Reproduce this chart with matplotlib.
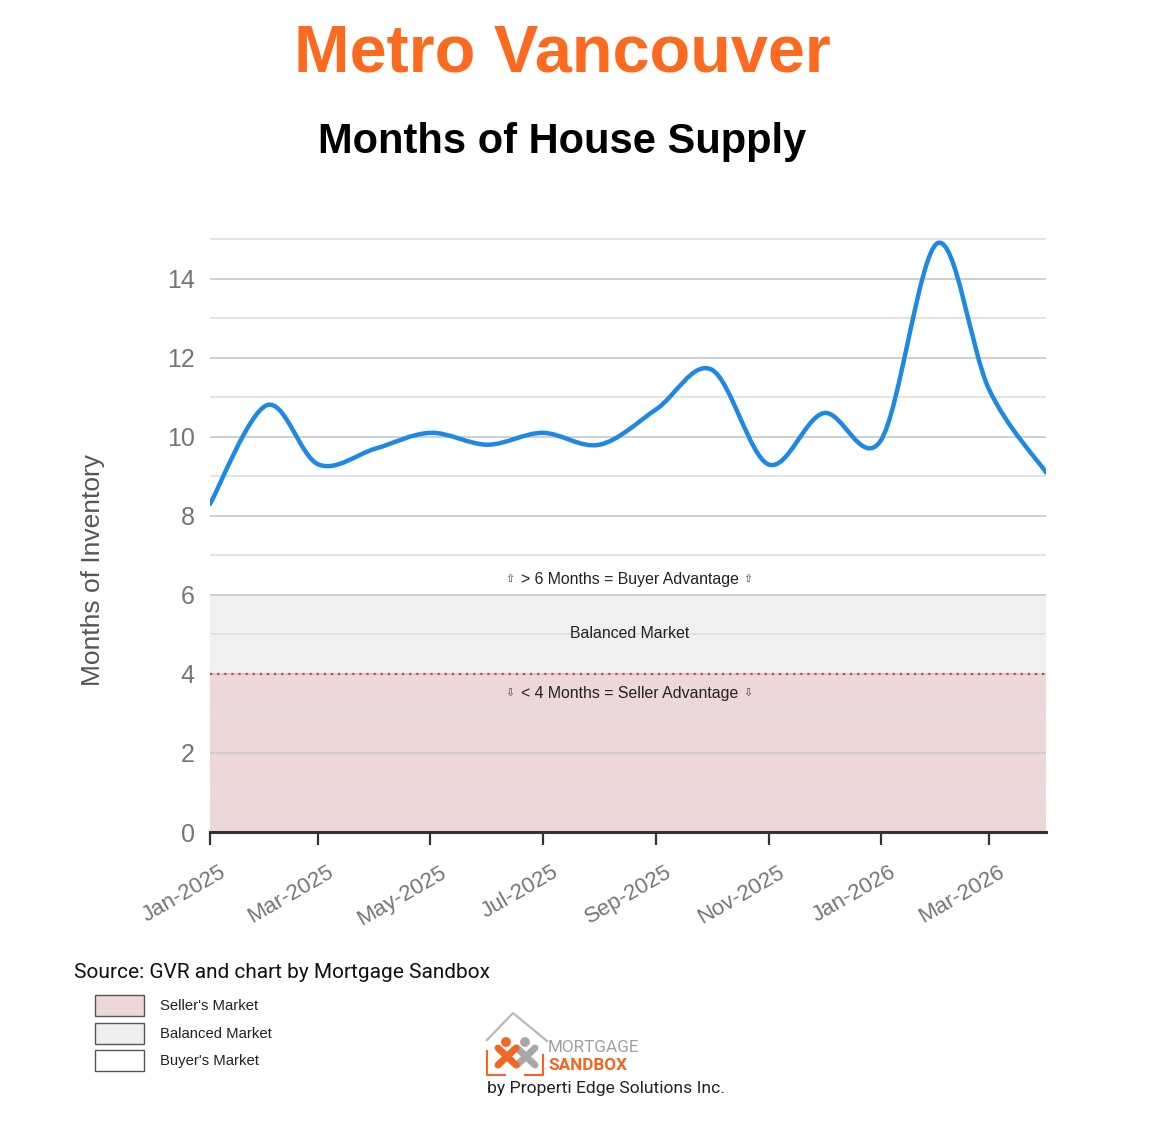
import matplotlib
matplotlib.use("Agg")

import numpy as np
import matplotlib.pyplot as plt
import matplotlib.dates as mdates
import matplotlib.patches as mpatches
from matplotlib.path import Path
from matplotlib.transforms import ScaledTranslation

# ── Data ────────────────────────────────────────────────────────────────────
months = np.array([
    "2025-01-01", "2025-02-01", "2025-03-01", "2025-04-01",
    "2025-05-01", "2025-06-01", "2025-07-01", "2025-08-01",
    "2025-09-01", "2025-10-01", "2025-11-01", "2025-12-01",
    "2026-01-01", "2026-02-01", "2026-03-01", "2026-04-01",
], dtype="datetime64[D]")
supply = [8.3, 10.8, 9.3, 9.7, 10.1, 9.8, 10.1, 9.8,
          10.7, 11.7, 9.3, 10.6, 9.9, 14.9, 11.2, 9.1]

tick_months = np.array([
    "2025-01-01", "2025-03-01", "2025-05-01", "2025-07-01",
    "2025-09-01", "2025-11-01", "2026-01-01", "2026-03-01",
], dtype="datetime64[D]")
tick_labels = ["Jan-2025", "Mar-2025", "May-2025", "Jul-2025",
               "Sep-2025", "Nov-2025", "Jan-2026", "Mar-2026"]

bands = [(0, 4, "#ecd8d9"), (4, 6, "#f0f0f0")]
legend_items = [("Seller's Market", "#ecd8d9"),
                ("Balanced Market", "#eeeeee"),
                ("Buyer's Market", "#ffffff")]

# ── Palette ─────────────────────────────────────────────────────────────────
_ORANGE = "#fb6a1f"
_LOGO_OR = "#f26522"
_LOGO_GR = "#a8a8a8"
_BLUE = "#1e88e5"
_GREY = "#757575"
_FONT = ["Liberation Sans", "DejaVu Sans"]
_ROBOTO = ["Roboto", "DejaVu Sans"]

W, H = 1168, 1134
fig = plt.figure(figsize=(W / 100, H / 100), dpi=100)
fig.patch.set_facecolor("white")


def px(x, y):
    """pixel (from top-left) -> figure fraction"""
    return x / W, 1 - y / H


ax = fig.add_axes([210 / W, 1 - 832 / H, 836 / W, 594 / H])

for lo, hi, c in bands:
    ax.axhspan(lo, hi, color=c, zorder=0, lw=0)
ax.axhline(4, color="#d0413c", lw=1.6, ls=(0, (1, 2.2)), zorder=1.5)

# smooth line: Catmull-Rom segments as cubic Beziers
xs = mdates.date2num(months.astype("datetime64[s]").astype(object))
ys = np.asarray(supply, float)
pts = np.column_stack([xs, ys])
ext = np.vstack([pts[0], pts, pts[-1]])
verts = [pts[0]]
codes = [Path.MOVETO]
for i in range(len(pts) - 1):
    p0, p1, p2, p3 = ext[i], ext[i + 1], ext[i + 2], ext[i + 3]
    verts += [p1 + (p2 - p0) / 6, p2 - (p3 - p1) / 6, p2]
    codes += [Path.CURVE4] * 3
ax.add_patch(mpatches.PathPatch(Path(verts, codes), fill=False,
                                edgecolor=_BLUE, lw=3.2, zorder=3,
                                capstyle="round", joinstyle="round"))

ax.set_xlim(xs[0], xs[-1])
ax.set_ylim(0, 15.03)
ax.set_yticks(range(0, 15, 2))
ax.set_yticks(range(1, 16, 2), minor=True)
ax.grid(True, which="major", axis="y", color="#cbcbcb", lw=1.3)
ax.grid(True, which="minor", axis="y", color="#e0e0e0", lw=1.3)
ax.set_axisbelow(True)

for s in ("top", "right", "left"):
    ax.spines[s].set_visible(False)
ax.spines["bottom"].set_color("#333333")
ax.spines["bottom"].set_linewidth(2.2)
ax.spines["bottom"].set_zorder(4)

ax.tick_params(axis="y", which="both", length=0, pad=11,
               labelsize=18, labelcolor=_GREY)
for t in ax.get_yticklabels():
    t.set_family(_FONT)

tx = mdates.date2num(tick_months.astype("datetime64[s]").astype(object))
ax.set_xticks(tx)
ax.set_xticklabels(tick_labels)
ax.tick_params(axis="x", length=9, width=1.6, color="#333333",
               pad=19, labelsize=16, labelcolor=_GREY)
offset = ScaledTranslation(0.14, 0, fig.dpi_scale_trans)
for t in ax.get_xticklabels():
    t.set_family(_FONT)
    t.set_rotation(30)
    t.set_ha("right")
    t.set_va("center")
    t.set_rotation_mode("anchor")
    t.set_transform(t.get_transform() + offset)

# band annotations (small outline arrows either side)
ytr = ax.get_yaxis_transform()
xc = (630 - 210) / 836
notes = [(6.39, "> 6 Months = Buyer Advantage", "\u21e7"),
         (5.03, "Balanced Market", ""),
         (3.51, "< 4 Months = Seller Advantage", "\u21e9")]
for yv, txt, arrow in notes:
    ax.text(xc, yv, txt, transform=ytr, ha="center", va="center",
            fontsize=11.4, color="#222222", family=_FONT)
    if arrow:
        for xa in ((510 - 210) / 836, (748 - 210) / 836):
            ax.text(xa, yv, arrow, transform=ytr, ha="center",
                    va="center", fontsize=8, color="#444444",
                    family=["DejaVu Sans"])

fig.text(*px(93, 570), "Months of Inventory", rotation=90,
         ha="center", va="center", fontsize=19, color="#555555",
         family=_FONT)

# ── Titles ──────────────────────────────────────────────────────────────────
fig.text(*px(562, 55), "Metro Vancouver", ha="center", va="center",
         fontsize=48, fontweight="bold", color=_ORANGE, family=_FONT)
fig.text(*px(562, 142), "Months of House Supply", ha="center",
         va="center", fontsize=30, fontweight="bold", color="#000000",
         family=_FONT)

# ── Footer: source + legend ─────────────────────────────────────────────────
fig.text(*px(74, 973), "Source: GVR and chart by Mortgage Sandbox",
         ha="left", va="center", fontsize=15, color="#111111",
         family=_ROBOTO)

for i, (label, c) in enumerate(legend_items):
    y = 995 + i * 27.5
    fig.add_artist(mpatches.Rectangle(px(95, y + 21), 49 / W, 21 / H,
                                      transform=fig.transFigure,
                                      facecolor=c, edgecolor="#555555",
                                      lw=1))
    fig.text(*px(160, y + 11), label, ha="left", va="center",
             fontsize=10.7, color="#222222", family=_FONT)

# ── Logo ────────────────────────────────────────────────────────────────────
lg = fig.add_axes([0, 0, 1, 1], zorder=10)
lg.set_xlim(0, W)
lg.set_ylim(H, 0)
lg.axis("off")
lg.patch.set_alpha(0)

lg.plot([487, 513, 547], [1040, 1013, 1041], color="#b8b8b8", lw=1.6)
lg.plot([487, 487, 505], [1051, 1075, 1075], color=_LOGO_OR, lw=1.5)
lg.plot([525, 543, 543], [1075, 1075, 1055], color=_LOGO_OR, lw=1.5)
# two little people
for cx, col in ((526, _LOGO_GR), (507, _LOGO_OR)):
    lg.plot([cx - 9, cx + 9], [1048, 1065], color=col, lw=5,
            solid_capstyle="round")
    lg.plot([cx + 9, cx - 9], [1048, 1065], color=col, lw=5,
            solid_capstyle="round")
    lg.add_patch(mpatches.Circle((cx - 1, 1042), 4.2, color=col))

lg.text(548, 1048, "MORTGAGE", ha="left", va="center", fontsize=12.3,
        color="#a0a0a0", family=_ROBOTO)
lg.text(548, 1065, "SANDBOX", ha="left", va="center", fontsize=12.3,
        color=_LOGO_OR, family=_ROBOTO, fontweight="bold")
lg.text(487, 1089, "by Properti Edge Solutions Inc.", ha="left",
        va="center", fontsize=12.6, color="#222222", family=_ROBOTO)

fig.savefig("out.png", dpi=100, facecolor="white")
